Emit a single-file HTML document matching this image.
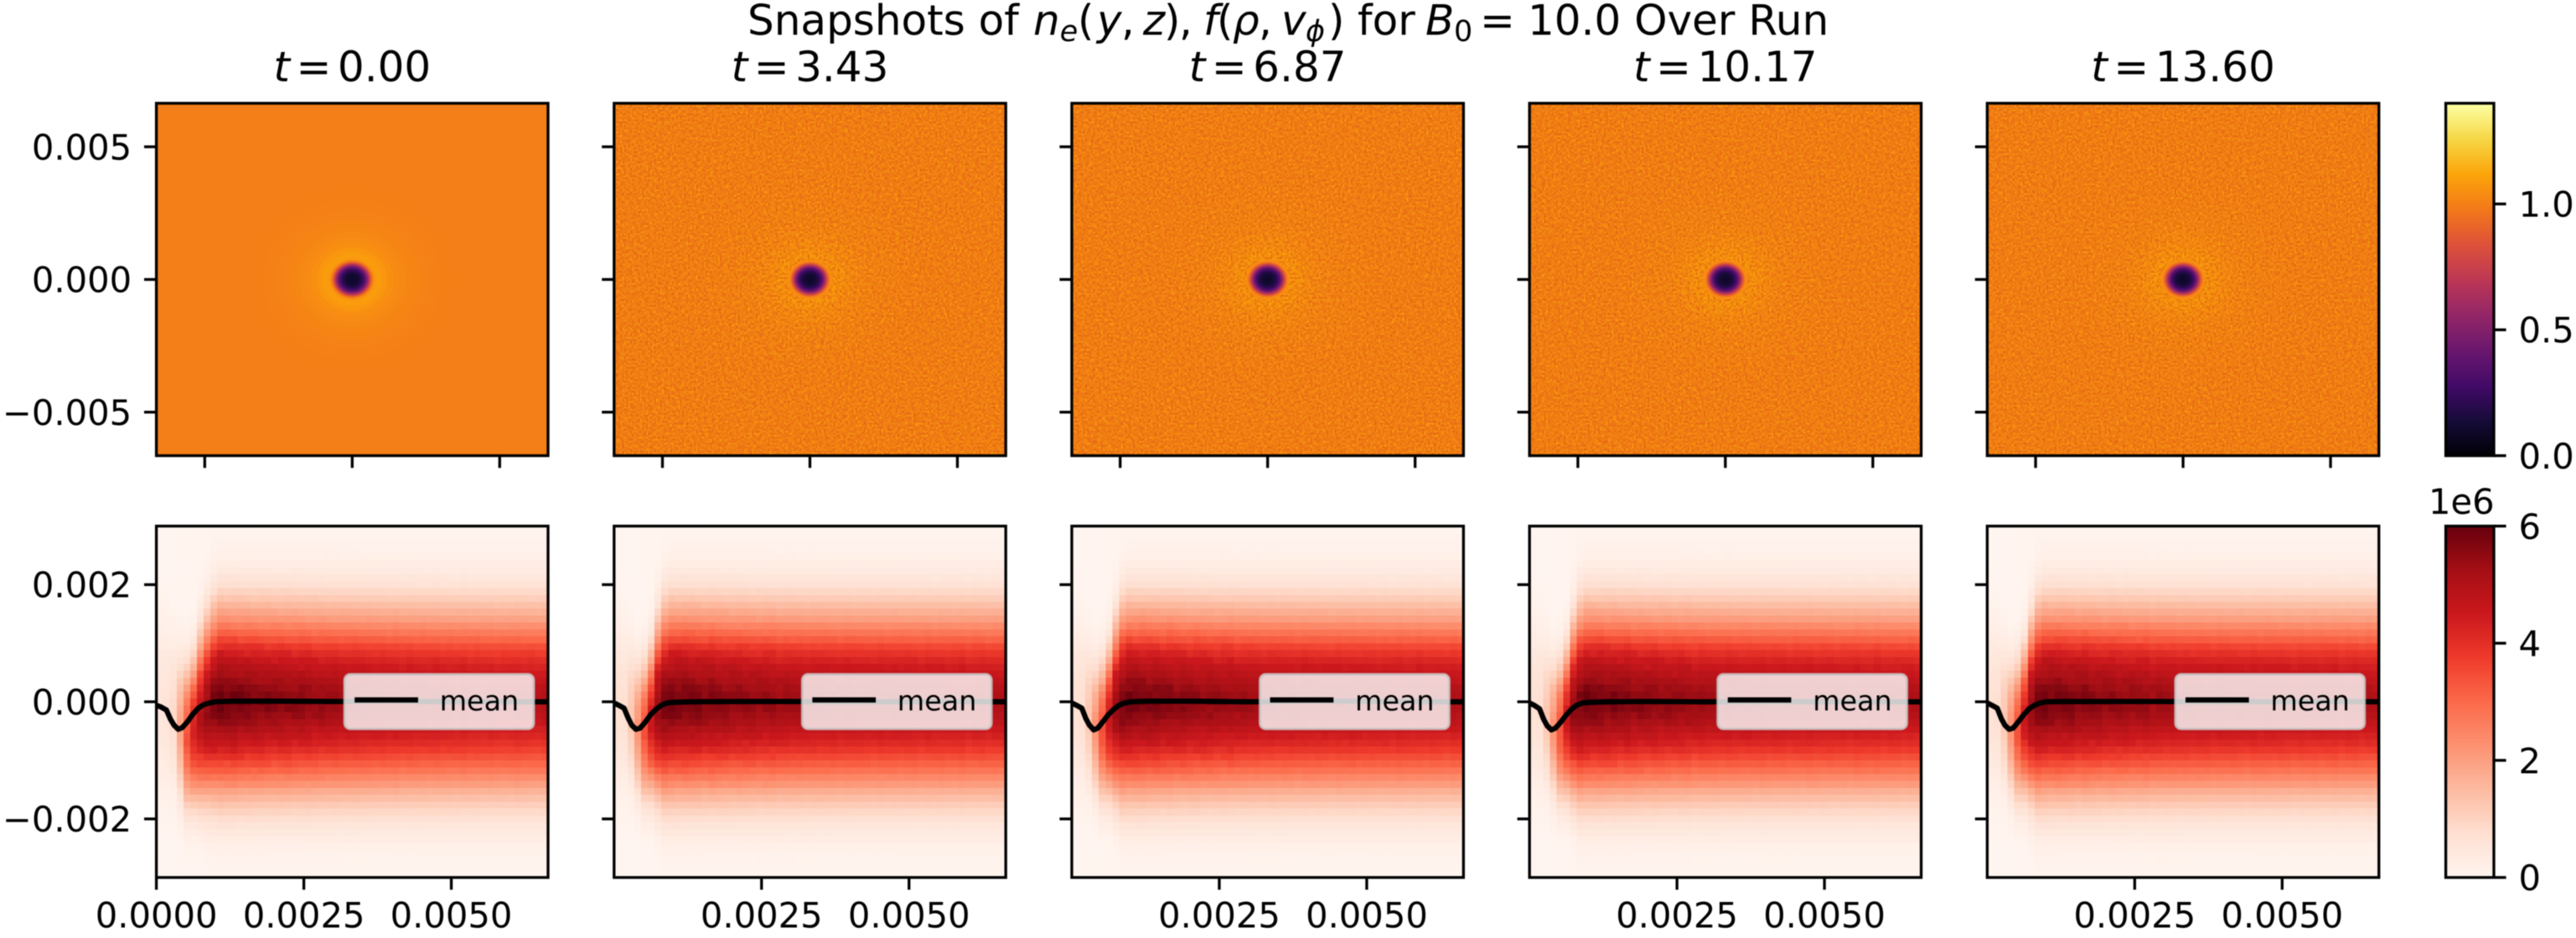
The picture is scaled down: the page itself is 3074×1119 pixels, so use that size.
<!DOCTYPE html>
<html lang="en">
<head>
<meta charset="utf-8">
<title>Snapshots of n_e(y,z), f(rho,v_phi) for B0 = 10.0 Over Run</title>
<style>
  html, body { margin: 0; padding: 0; background: #fff; }
  body { width: 3074px; height: 1119px; overflow: hidden; }
  svg { display: block; filter: blur(0.6px); }
  text { font-family: "DejaVu Sans", "Liberation Sans", sans-serif; fill: #000; }
  .it { font-style: italic; }
</style>
</head>
<body>
<svg id="figure" xmlns="http://www.w3.org/2000/svg" width="3074" height="1119" viewBox="0 0 3074 1119">
  <defs>
    <filter id="grain-light" x="0" y="0" width="100%" height="100%" color-interpolation-filters="sRGB">
      <feTurbulence type="fractalNoise" baseFrequency="0.42" numOctaves="1" seed="4"/>
      <feColorMatrix type="matrix" values="0 0 0 0 0.99  0 0 0 0 0.68  0 0 0 0 0.04  2.6 0 0 0 -1.0"/>
      <feGaussianBlur stdDeviation="0.4"/>
    </filter>
    <filter id="grain-dark" x="0" y="0" width="100%" height="100%" color-interpolation-filters="sRGB">
      <feTurbulence type="fractalNoise" baseFrequency="0.42" numOctaves="1" seed="11"/>
      <feColorMatrix type="matrix" values="0 0 0 0 0.88  0 0 0 0 0.36  0 0 0 0 0.08  2.6 0 0 0 -1.0"/>
      <feGaussianBlur stdDeviation="0.4"/>
    </filter>
  </defs>
  <rect x="0" y="0" width="3074" height="1119" fill="#ffffff"/>
  <text y="41.5" font-size="50"><tspan x="892">Snapshots of </tspan><tspan class="it" x="1233">n</tspan><tspan class="it" font-size="35" dy="7.5">e</tspan><tspan dy="-7.5" x="1286">(</tspan><tspan class="it" x="1309">y</tspan><tspan x="1338">,</tspan><tspan class="it" x="1364">z</tspan><tspan x="1389">)</tspan><tspan x="1407">,</tspan><tspan class="it" x="1436">f</tspan><tspan x="1452">(</tspan><tspan class="it" x="1471">ρ</tspan><tspan x="1502">,</tspan><tspan class="it" x="1529">v</tspan><tspan class="it" font-size="35" dy="7.5" x="1558">ϕ</tspan><tspan dy="-7.5" x="1585">)</tspan><tspan x="1620">for</tspan><tspan class="it" x="1701">B</tspan><tspan font-size="35" dy="7.5" x="1735">0</tspan><tspan dy="-7.5" x="1766">=</tspan><tspan x="1823">10.0 Over Run</tspan></text>
  <g id="panels"></g>
  <g id="colorbars"></g>
</svg>

<script>
// ---------- Data ----------
const snapshotTimes = ['0.00', '3.43', '6.87', '10.17', '13.60'];

// Electron density n_e as a function of radius (radius in units of 1e-3)
const radiusBins = [0, 0.05, 0.1, 0.15, 0.2, 0.25, 0.3, 0.35, 0.4, 0.45, 0.5, 0.55, 0.6, 0.65, 0.7, 0.75, 0.8, 0.85, 0.9, 0.95, 1.0, 1.1, 1.2, 1.4, 1.6, 1.8, 2.0, 2.3, 2.6, 3.0, 3.5, 4.0];
const densityInitial = [0.10, 0.10, 0.105, 0.11, 0.12, 0.14, 0.17, 0.21, 0.27, 0.34, 0.43, 0.56, 0.70, 0.84, 0.97, 1.04, 1.08, 1.09, 1.095, 1.095, 1.09, 1.08, 1.07, 1.05, 1.04, 1.03, 1.025, 1.018, 1.012, 1.007, 1.003, 1.0];
const densityLate = [0.10, 0.10, 0.105, 0.11, 0.125, 0.15, 0.18, 0.23, 0.30, 0.38, 0.50, 0.64, 0.78, 0.92, 1.02, 1.05, 1.07, 1.09, 1.10, 1.10, 1.10, 1.09, 1.08, 1.06, 1.05, 1.04, 1.03, 1.02, 1.015, 1.01, 1.005, 1.0];

// Far-field f(v_phi) profile, units of 1e6, top row (+v) to bottom row (-v)
const velocityProfile = [0.05, 0.07, 0.10, 0.14, 0.20, 0.30, 0.40, 0.55, 0.70, 0.95, 1.20, 1.50, 1.80, 2.10, 2.50, 2.90, 3.30, 3.75, 4.10, 4.40, 4.65, 4.85, 5.05, 5.25, 5.40, 5.45, 5.40, 5.25, 5.05, 4.80, 4.55, 4.30, 4.00, 3.65, 3.30, 2.95, 2.55, 2.20, 1.80, 1.50, 1.20, 0.95, 0.75, 0.55, 0.42, 0.30, 0.20, 0.13, 0.09, 0.06, 0.04];

// Peak of f per rho column, units of 1e6
const columnPeakInitial = [0.55, 0.6, 0.85, 1.9, 3.4, 4.4, 5.0, 5.5, 5.8, 5.9, 5.85, 5.9, 5.8, 5.75, 5.7, 5.7, 5.65, 5.6, 5.6, 5.6, 5.55, 5.55, 5.5, 5.45, 5.45, 5.4, 5.4, 5.35, 5.35, 5.35, 5.3, 5.3, 5.25, 5.25, 5.2, 5.25, 5.15, 5.2, 5.15, 5.15, 5.1, 5.15, 5.1, 5.1, 5.05, 5.1, 5.05, 5.05, 5.0, 5.05, 5.0, 5.0, 5.0, 5.05, 5.0, 5.0, 4.95, 5.0];
const columnPeakLate = [0.7, 0.75, 1.25, 2.2, 3.4, 4.6, 5.5, 5.8, 5.85, 5.8, 5.8, 5.75, 5.75, 5.65, 5.7, 5.6, 5.6, 5.55, 5.55, 5.5, 5.5, 5.45, 5.45, 5.45, 5.35, 5.4, 5.35, 5.35, 5.3, 5.35, 5.3, 5.3, 5.3, 5.25, 5.3, 5.25, 5.25, 5.25, 5.2, 5.25, 5.2, 5.25, 5.2, 5.2, 5.2, 5.15, 5.2, 5.15, 5.2, 5.15, 5.15, 5.2, 5.1, 5.15, 5.15, 5.1, 5.15, 5.1];

// Near-axis column shape: relative width and centre shift (1e-3); later columns use 1 and 0
const coreWidthInitial = [0.95, 0.9, 0.8, 0.75, 0.75, 0.75, 0.85, 0.92, 0.97, 1];
const coreShiftInitial = [-0.05, -0.1, -0.2, -0.45, -0.6, -0.5, -0.3, -0.15, -0.05, 0];
const coreWidthLate = [0.9, 0.85, 0.75, 0.7, 0.72, 0.75, 0.88, 0.98, 1, 1];
const coreShiftLate = [-0.05, -0.1, -0.25, -0.45, -0.5, -0.35, -0.15, -0.05, 0, 0];

// Hand-typed cell speckle table, relative jitter
const cellSpeckle = [0.4, -0.7, 0.2, 0.9, -0.3, -0.9, 0.6, 0.1, -0.5, 0.8, -0.1, 0.3, -0.8, 0.5, 1.0, -0.4, -0.2, 0.7, -0.6, 0.0, 0.9, -1.0, 0.3, 0.6, -0.3, 0.2, -0.7, 0.8, 0.1, -0.5, 0.5, -0.9, 0.4, 0.0, 0.7, -0.2, -0.6, 1.0, -0.4, 0.2, 0.6, -0.8, 0.1, -0.1, 0.9, -0.5, 0.3, -0.3, 0.7, -1.0, 0.5, 0.2, -0.7, 0.8, -0.2, 0.0, 0.4, -0.6, 0.9, -0.4, 0.1, 0.6, -0.9, 0.3, -0.1, 0.7, -0.5];

// Mean v_phi along rho (both in units of 1e-3)
const meanRho = [0, 0.08, 0.17, 0.24, 0.30, 0.37, 0.44, 0.52, 0.62, 0.71, 0.80, 0.90, 1.0, 1.3, 2.0, 3.0, 4.0, 5.0, 6.0, 6.64];
const meanT000 = [-0.06, -0.09, -0.14, -0.30, -0.40, -0.47, -0.44, -0.35, -0.21, -0.11, -0.05, -0.02, 0.0, 0.01, 0.01, 0.005, 0.01, 0.0, 0.0, 0.0];
const meanT343 = [-0.02, -0.06, -0.11, -0.28, -0.40, -0.47, -0.45, -0.36, -0.22, -0.13, -0.06, -0.02, -0.01, 0.0, 0.005, 0.005, 0.0, 0.0, 0.005, 0.0];
const meanT687 = [-0.02, -0.06, -0.11, -0.29, -0.40, -0.48, -0.45, -0.35, -0.22, -0.13, -0.06, -0.02, 0.0, 0.01, 0.01, 0.0, 0.01, 0.01, 0.0, 0.0];
const meanT1017 = [-0.02, -0.06, -0.12, -0.30, -0.41, -0.48, -0.45, -0.36, -0.23, -0.13, -0.06, -0.02, -0.01, 0.0, 0.005, 0.0, 0.005, 0.0, 0.0, 0.0];
const meanT1360 = [-0.02, -0.06, -0.11, -0.29, -0.40, -0.47, -0.45, -0.35, -0.22, -0.12, -0.06, -0.02, 0.0, 0.005, 0.005, 0.005, 0.0, 0.0, 0.005, 0.0];

// Tick values and labels
const topYTicks = [0.005, 0, -0.005];
const topYTickLabels = ['0.005', '0.000', '\u22120.005'];
const topXTicks = [-0.005, 0, 0.005];
const bottomYTicks = [0.002, 0, -0.002];
const bottomYTickLabels = ['0.002', '0.000', '\u22120.002'];
const bottomXTicks = [0, 0.0025, 0.005];
const bottomXTickLabels = ['0.0000', '0.0025', '0.0050'];
const densityBarTicks = [0, 0.5, 1.0];
const densityBarTickLabels = ['0.0', '0.5', '1.0'];
const histBarTicks = [0, 2, 4, 6];
const histBarTickLabels = ['0', '2', '4', '6'];

// Domain limits
const densityMax = 1.4;
const histMax = 6;
const extentTop = 0.00664;
const extentRho = 0.00664;
const extentV = 0.003;

// Colormap anchors
const infernoStops = ['#000004', '#160b39', '#420a68', '#6a176e', '#932667', '#bc3754', '#dd513a', '#f37819', '#fca50a', '#f6d746', '#fcffa4'];
const redsStops = ['#fff5f0', '#fee0d2', '#fcbba1', '#fc9272', '#fb6a4a', '#ef3b2c', '#cb181d', '#a50f15', '#67000d'];

// ---------- Layout ----------
const SVG_NS = 'http://www.w3.org/2000/svg';
const panelsRoot = document.getElementById('panels');
const barsRoot = document.getElementById('colorbars');
const axesWidth = 467.4;
const axesStep = 546.2;
const firstLeft = 186.6;
const topAxisY = 123.2;
const topAxisH = 420.4;
const botAxisY = 627.6;
const botAxisH = 419.2;
const tickLen = 14.6;
const spineW = 3.33;
const tickFont = 41.67;

function mk(tag, attrs, parent) {
  const el = document.createElementNS(SVG_NS, tag);
  for (const k in attrs) el.setAttribute(k, attrs[k]);
  if (parent) parent.appendChild(el);
  return el;
}
function colorFrom(stops, t) {
  const c = Math.max(0, Math.min(1, t)) * (stops.length - 1);
  const i = Math.min(stops.length - 2, Math.floor(c));
  const f = c - i;
  const a = stops[i], b = stops[i + 1];
  const ch = (s, o) => parseInt(s.substr(o, 2), 16);
  const mix = o => Math.round(ch(a, o) + (ch(b, o) - ch(a, o)) * f);
  return 'rgb(' + mix(1) + ',' + mix(3) + ',' + mix(5) + ')';
}
function lerpProfile(pos) {
  const p = Math.max(0, Math.min(velocityProfile.length - 1, pos));
  const i = Math.min(velocityProfile.length - 2, Math.floor(p));
  return velocityProfile[i] + (velocityProfile[i + 1] - velocityProfile[i]) * (p - i);
}
function tickMark(parent, x1, y1, x2, y2, name) {
  const t = mk('line', { x1: x1, y1: y1, x2: x2, y2: y2, stroke: '#000', 'stroke-width': spineW }, parent);
  
  
}
function tickText(parent, x, y, anchor, label, name) {
  const t = mk('text', { x: x, y: y, 'text-anchor': anchor, 'font-size': tickFont }, parent);
  t.textContent = label;
  
  
}
function frame(parent, x, y, w, h, name) {
  const r = mk('rect', { x: x, y: y, width: w, height: h, fill: 'none', stroke: '#000', 'stroke-width': spineW }, parent);
  
  
}

const meanSeries = [meanT000, meanT343, meanT687, meanT1017, meanT1360];

snapshotTimes.forEach(function (timeLabel, p) {
  const left = firstLeft + axesStep * p;
  const initial = p === 0;

  // --- scales ---
  const xTop = v => left + (v + extentTop) / (2 * extentTop) * axesWidth;
  const yTop = v => topAxisY + (extentTop - v) / (2 * extentTop) * topAxisH;
  const xBot = v => left + v / extentRho * axesWidth;
  const yBot = v => botAxisY + (extentV - v) / (2 * extentV) * botAxisH;

  // --- panel title ---
  const title = mk('text', { x: xTop(0), y: 97, 'text-anchor': 'middle', 'font-size': 50 }, panelsRoot);
  
  
  const titleVar = mk('tspan', { class: 'it' }, title);
  titleVar.textContent = 't';
  const titleEq = mk('tspan', { dx: 7.5 }, title);
  titleEq.textContent = '=';
  const titleVal = mk('tspan', { dx: 7.5 }, title);
  titleVal.textContent = timeLabel;

  // --- density heatmap ---
  const topGroup = mk('g', {}, panelsRoot);
  
  
  const clipTop = mk('clipPath', { id: 'clip-top-' + p }, topGroup);
  mk('rect', { x: left, y: topAxisY, width: axesWidth, height: topAxisH }, clipTop);
  const topPlot = mk('g', { 'clip-path': 'url(#clip-top-' + p + ')' }, topGroup);
  const density = initial ? densityInitial : densityLate;
  const bg = mk('rect', { x: left, y: topAxisY, width: axesWidth, height: topAxisH, fill: colorFrom(infernoStops, density[density.length - 1] / densityMax) }, topPlot);
  
  
  for (let k = radiusBins.length - 1; k >= 0; k--) {
    if (!initial && radiusBins[k] < 0.8 && radiusBins[k + 1] >= 0.8) {
      const light = mk('rect', { x: left, y: topAxisY, width: axesWidth, height: topAxisH, fill: '#fff', filter: 'url(#grain-light)' }, topPlot);
      
      
      const dark = mk('rect', { x: left, y: topAxisY, width: axesWidth, height: topAxisH, fill: '#fff', filter: 'url(#grain-dark)' }, topPlot);
      
      
    }
    const rData = radiusBins[k] * 1e-3;
    const ring = mk('ellipse', {
      cx: xTop(0), cy: yTop(0),
      rx: xTop(rData) - xTop(0), ry: yTop(0) - yTop(rData),
      fill: colorFrom(infernoStops, density[k] / densityMax)
    }, topPlot);
    
    
  }
  frame(topGroup, left, topAxisY, axesWidth, topAxisH, 'density-axes-frame');
  topXTicks.forEach(function (v) {
    tickMark(topGroup, xTop(v), topAxisY + topAxisH, xTop(v), topAxisY + topAxisH + tickLen, 'density-x-tick');
  });
  topYTicks.forEach(function (v, i) {
    tickMark(topGroup, left, yTop(v), left - tickLen, yTop(v), 'density-y-tick');
    if (initial) tickText(topGroup, left - 29.5, yTop(v) + 15.2, 'end', topYTickLabels[i], 'density-y-tick-label');
  });

  // --- phase-space heatmap ---
  const botGroup = mk('g', {}, panelsRoot);
  
  
  const clipBot = mk('clipPath', { id: 'clip-bot-' + p }, botGroup);
  mk('rect', { x: left, y: botAxisY, width: axesWidth, height: botAxisH }, clipBot);
  const botPlot = mk('g', { 'clip-path': 'url(#clip-bot-' + p + ')', 'shape-rendering': 'crispEdges' }, botGroup);
  const peaks = initial ? columnPeakInitial : columnPeakLate;
  const widths = initial ? coreWidthInitial : coreWidthLate;
  const shifts = initial ? coreShiftInitial : coreShiftLate;
  const nCol = peaks.length;
  const nRow = velocityProfile.length;
  const rhoStep = extentRho / nCol;
  const vStep = 2 * extentV / nRow;
  const profileMax = Math.max.apply(null, velocityProfile);
  for (let i = 0; i < nCol; i++) {
    const w = i < widths.length ? widths[i] : 1;
    const s = (i < shifts.length ? shifts[i] : 0) * 1e-3;
    for (let j = 0; j < nRow; j++) {
      const vCenter = extentV - (j + 0.5) * vStep;
      const pos = (extentV - (vCenter - s) / w) / vStep - 0.5;
      const base = lerpProfile(pos) * peaks[i] / profileMax;
      const amp = i < 25 ? 0.025 : 0.012;
      const value = base * (1 + amp * cellSpeckle[(i * 11 + j * 23 + p * 37) % cellSpeckle.length]);
      const x0 = xBot(i * rhoStep);
      const y0 = yBot(extentV - j * vStep);
      const cell = mk('rect', {
        x: x0.toFixed(2), y: y0.toFixed(2),
        width: (xBot((i + 1) * rhoStep) - x0 + 0.6).toFixed(2),
        height: (yBot(extentV - (j + 1) * vStep) - y0 + 0.6).toFixed(2),
        fill: colorFrom(redsStops, value / histMax)
      }, botPlot);
      
      
    }
  }
  const series = meanSeries[p];
  const meanPath = meanRho.map((r, i) => (i ? 'L' : 'M') + xBot(r * 1e-3).toFixed(2) + ' ' + yBot(series[i] * 1e-3).toFixed(2)).join(' ');
  const meanLine = mk('path', { d: meanPath, fill: 'none', stroke: '#000', 'stroke-width': 6.25, 'stroke-linejoin': 'round' }, botGroup);
  meanLine.setAttribute('clip-path', 'url(#clip-bot-' + p + ')');
  
  

  // --- legend ---
  const legend = mk('g', {}, botGroup);
  
  
  const legendBox = mk('rect', { x: left + 224.7, y: 804.6, width: 225.5, height: 64.8, rx: 6.7, ry: 6.7, fill: '#fff', 'fill-opacity': 0.8, stroke: '#ccc', 'stroke-opacity': 0.8, 'stroke-width': 3.33 }, legend);
  
  
  const legendLine = mk('line', { x1: left + 236.6, y1: 835, x2: left + 312.3, y2: 835, stroke: '#000', 'stroke-width': 6.25 }, legend);
  
  
  const legendText = mk('text', { x: left + 338, y: 847.7, 'font-size': 33.33 }, legend);
  legendText.textContent = 'mean';
  
  

  frame(botGroup, left, botAxisY, axesWidth, botAxisH, 'phase-space-axes-frame');
  bottomXTicks.forEach(function (v, i) {
    if (!initial && v === 0) return;
    tickMark(botGroup, xBot(v), botAxisY + botAxisH, xBot(v), botAxisY + botAxisH + tickLen, 'phase-space-x-tick');
    tickText(botGroup, xBot(v), 1106.5, 'middle', bottomXTickLabels[i], 'phase-space-x-tick-label');
  });
  bottomYTicks.forEach(function (v, i) {
    tickMark(botGroup, left, yBot(v), left - tickLen, yBot(v), 'phase-space-y-tick');
    if (initial) tickText(botGroup, left - 29.5, yBot(v) + 15.2, 'end', bottomYTickLabels[i], 'phase-space-y-tick-label');
  });
});

// ---------- Colorbars ----------
function drawColorbar(y, h, maxValue, stops, ticks, labels, name) {
  const x = 2918.6, w = 57.4;
  const yScale = v => y + h - v / maxValue * h;
  const g = mk('g', {}, barsRoot);
  
  
  const levels = 256;
  for (let i = 0; i < levels; i++) {
    const y1 = yScale((i + 1) / levels * maxValue);
    const y0 = yScale(i / levels * maxValue);
    const band = mk('rect', { x: x, y: y1.toFixed(2), width: w, height: (y0 - y1 + 0.6).toFixed(2), fill: colorFrom(stops, (i + 0.5) / levels), 'shape-rendering': 'crispEdges' }, g);
    
    
  }
  frame(g, x, y, w, h, 'colorbar-frame');
  ticks.forEach(function (v, i) {
    tickMark(g, x + w, yScale(v), x + w + tickLen, yScale(v), 'colorbar-tick');
    tickText(g, x + w + 29.5, yScale(v) + 15.2, 'start', labels[i], 'colorbar-tick-label');
  });
  return g;
}
drawColorbar(topAxisY, topAxisH, densityMax, infernoStops, densityBarTicks, densityBarTickLabels, 'density-colorbar');
const histBar = drawColorbar(botAxisY, botAxisH, histMax, redsStops, histBarTicks, histBarTickLabels, 'phase-space-colorbar');
tickText(histBar, 2898, 613, 'start', '1e6', 'colorbar-offset-label');
</script>
</body>
</html>
